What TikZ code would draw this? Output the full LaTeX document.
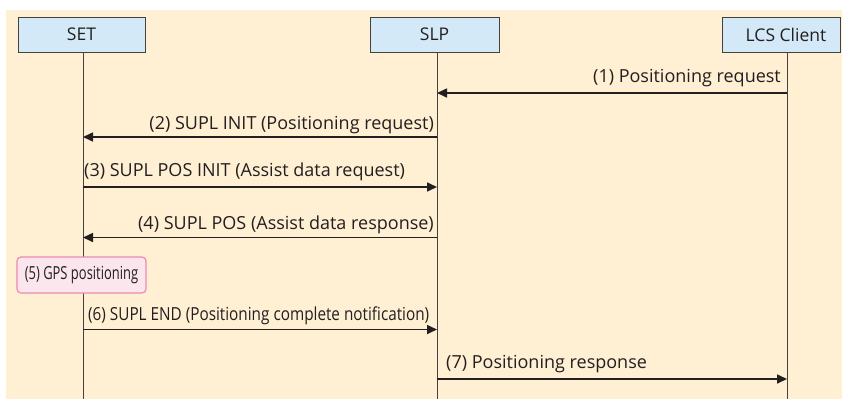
\documentclass[tikz,border=0pt]{standalone}
\usepackage{fontspec}
\setmainfont{Open Sans}
\usetikzlibrary{arrows.meta}
\definecolor{bg}{HTML}{FFEFD3}
\definecolor{boxfill}{HTML}{D3E9F7}
\definecolor{pinkfill}{HTML}{FCE6EE}
\definecolor{pinkdraw}{HTML}{EE8AAE}
\definecolor{ink}{HTML}{231F20}
\begin{document}
\begin{tikzpicture}[x=1pt,y=-1pt,
  actor/.style={draw=ink!85, fill=boxfill, line width=0.8pt, minimum height=35pt, inner sep=0pt, text=ink, font=\fontsize{17.5}{20}\selectfont},
  life/.style={draw=ink!85, line width=0.8pt},
  msg/.style={draw=ink, line width=1.6pt, -{Triangle[length=10pt,width=9pt]}},
  lbl/.style={font=\fontsize{18}{21}\selectfont, text=ink, inner sep=0pt},
  actbox/.style={draw=pinkdraw, fill=pinkfill, line width=1.2pt, rounded corners=4pt, minimum width=129pt, minimum height=36pt, inner sep=0pt, text=ink, font=\fontsize{18}{21}\selectfont},
]
\useasboundingbox (0,0) rectangle (842,399);
\fill[bg] (6,10) rectangle (842,399);
% actors
\node[actor, minimum width=127pt] (set) at (81.5,34.5) {SET};
\node[actor, minimum width=129pt] (slp) at (434.5,34.5) {SLP};
\node[actor, minimum width=118pt] (lcs) at (781,34.5) {\hspace*{10pt}LCS Client};
% lifelines
\coordinate (setT) at (83,52);  \coordinate (setB) at (83,399);
\coordinate (slpT) at (437,52); \coordinate (slpB) at (437,399);
\coordinate (lcsT) at (787,52); \coordinate (lcsB) at (787,399);
\draw[life] (setT) -- (setB);
\draw[life] (slpT) -- (slpB);
\draw[life] (lcsT) -- (lcsB);
% message end points
\coordinate (m1a) at (787,93);  \coordinate (m1b) at (437,93);
\coordinate (m2a) at (437,137); \coordinate (m2b) at (83,137);
\coordinate (m3a) at (83,187);  \coordinate (m3b) at (437,187);
\coordinate (m4a) at (437,237.5); \coordinate (m4b) at (83,237.5);
\coordinate (m6a) at (83,329.5);  \coordinate (m6b) at (437,329.5);
\coordinate (m7a) at (437,379); \coordinate (m7b) at (787,379);
\draw[msg] (m1a) -- (m1b);
\draw[msg] (m2a) -- (m2b);
\draw[msg] (m3a) -- (m3b);
\draw[msg] (m4a) -- (m4b);
\draw[msg] (m6a) -- (m6b);
\draw[msg] (m7a) -- (m7b);
% labels
\node[lbl, anchor=base east] (l1) at (781,82.5) {(1) Positioning request};
\node[lbl, anchor=base east] (l2) at (434,129) {(2) SUPL INIT (Positioning request)};
\node[lbl, anchor=base west] (l3) at (84,176) {(3) SUPL POS INIT (Assist data request)};
\node[lbl, anchor=base east] (l4) at (434,229) {(4) SUPL POS (Assist data response)};
\node[lbl, anchor=base west] (l6) at (88,320) {\scalebox{0.85}[1]{(6) SUPL END (Positioning complete notification)}};
\node[lbl, anchor=base west] (l7) at (446,368) {(7) Positioning response};
% activity box
\node[actbox] (gps) at (81.5,275) {\scalebox{0.72}[1]{(5) GPS positioning}};
\end{tikzpicture}
\end{document}
